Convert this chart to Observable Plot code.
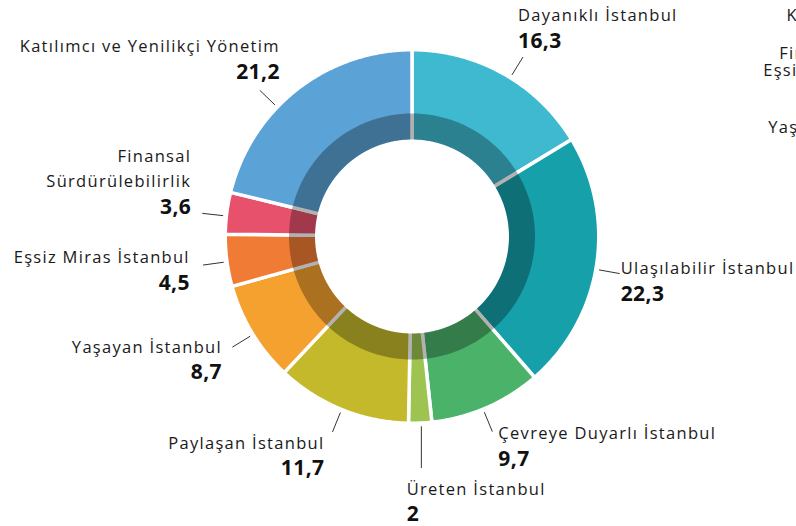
<!DOCTYPE html>
<html><head><meta charset="utf-8">
<script src="https://cdn.jsdelivr.net/npm/d3@7"></script>
<script src="https://cdn.jsdelivr.net/npm/@observablehq/plot@0.6"></script>
<style>
html,body{margin:0;padding:0;background:#fff;overflow:hidden;}
svg text{letter-spacing:1.3px;}
svg g[font-weight="700"] text, svg text[font-weight="700"]{letter-spacing:0.4px;}
</style></head><body><div id="chart"></div>
<script>
// ---- data ----
const categories = ["Dayanıklı İstanbul","Ulaşılabilir İstanbul","Çevreye Duyarlı İstanbul","Üreten İstanbul","Paylaşan İstanbul","Yaşayan İstanbul","Eşsiz Miras İstanbul","Finansal Sürdürülebilirlik","Katılımcı ve Yenilikçi Yönetim"];
const values = [16.3, 22.3, 9.7, 2, 11.7, 8.7, 4.5, 3.6, 21.2];
const valueLabels = ["16,3","22,3","9,7","2","11,7","8,7","4,5","3,6","21,2"];
const colors = ["#3fb9cf","#16a0aa","#4bb26a","#9dc451","#c4b92b","#f5a12f","#ef7b34","#e8516c","#5ba2d6"];
// labels of a neighbouring chart, cut off at the right edge
const neighbourLabels = ["Katılımcı ve Yenilikçi Yönetim","Finansal Sürdürülebilirlik","Eşsiz Miras İstanbul","Yaşayan İstanbul"];

// ---- layout (pixels) ----
const W = 796, H = 526, cx = 411.5, cy = 236, R = 185;
const rIn = 97 / R, rDark = 123 / R, gap = 3.5;
const c0 = 190 / R, c1 = 211 / R;
const labelLayout = [
  {shift: 2.4, dx: -5, dyName: -44, dyValue: -15.6, anchor: "start"},
  {shift: 1.3, dx: 1, dyName: -7.7, dyValue: 20.6, anchor: "start"},
  {shift: 1.2, dx: 6, dyName: 0, dyValue: 27.6, anchor: "start"},
  {shift: -0.3, vertical: 41.7, dx: -14.7, dyName: 19.3, dyValue: 46.3, anchor: "start"},
  {shift: 0, dx: -8, dyName: 9.4, dyValue: 36, anchor: "end"},
  {shift: -0.5, dx: -10.4, dyName: -2.4, dyValue: 25, anchor: "end"},
  {shift: -0.4, dx: -13.1, dyName: -10, dyValue: 18.3, anchor: "end"},
  {shift: -0.9, dx: -11.1, dyName: -46.5, dyValue: -6, anchor: "end", wrap: true},
  {shift: -8, dx: 20, dyName: -45.7, dyValue: -18, anchor: "end"}
];
const neighbourLayout = [[786, 15], [778.7, 53], [762.7, 70], [767.7, 127]];

const deg = Math.PI / 180;
const pt = (a, r) => [r * Math.sin(a), r * Math.cos(a)];
const arcs = d3.pie().sort(null).value(d => d)(values);

// slices
const sliceVerts = [];
arcs.forEach((p, i) => {
  const a0 = p.startAngle, a1 = p.endAngle;
  const n = Math.max(2, Math.ceil((a1 - a0) / (0.5 * deg)));
  const ro = 1 + gap / 2 / R, ri = rIn - gap / 2 / R;
  const pts = [];
  for (let k = 0; k <= n; k++) pts.push(pt(a0 + (a1 - a0) * k / n, ro));
  for (let k = n; k >= 0; k--) pts.push(pt(a0 + (a1 - a0) * k / n, ri));
  pts.push(pts[0]);
  pts.forEach(([x, y]) => sliceVerts.push({cat: categories[i], x, y}));
});

// dark inner band
const ringVerts = [];
for (let k = 0; k <= 720; k++) { const [x, y] = pt(k * 0.5 * deg, rDark); ringVerts.push({x, y}); }
for (let k = 720; k >= 0; k--) { const [x, y] = pt(k * 0.5 * deg, rIn); ringVerts.push({x, y}); }

// connectors and labels
const connectors = [], labels = [];
arcs.forEach((p, i) => {
  const L = labelLayout[i];
  const a = (p.startAngle + p.endAngle) / 2 + L.shift * deg;
  const [x1, y1] = pt(a, c0);
  let x2, y2;
  if (L.vertical) { x2 = x1; y2 = y1 - L.vertical / R; }
  else { [x2, y2] = pt(a, c1); }
  connectors.push({x1, y1, x2, y2});
  const name = L.wrap ? categories[i].replace(" ", "\n") : categories[i];
  labels.push({
    name, value: valueLabels[i], anchor: L.anchor,
    x: x2 + L.dx / R, yName: y2 - L.dyName / R, yValue: y2 - L.dyValue / R
  });
});
const neighbours = neighbourLabels.map((t, i) => ({t, x: (neighbourLayout[i][0] - cx) / R, y: (cy - neighbourLayout[i][1]) / R}));

const font = "'Open Sans', sans-serif";
const nameOpts = (anchor) => ({x: "x", y: "yName", text: "name", textAnchor: anchor, filter: d => d.anchor === anchor, fontSize: 16.5, lineHeight: 1.47, fill: "#1a1a1a"});
const valOpts = (anchor) => ({x: "x", y: "yValue", text: "value", textAnchor: anchor, filter: d => d.anchor === anchor, fontSize: 21, fontWeight: 700, fill: "#111"});

const chart = Plot.plot({
  width: W, height: H,
  marginTop: 0, marginRight: 0, marginBottom: 0, marginLeft: 0,
  x: {domain: [-cx / R, (W - cx) / R], range: [0, W], axis: null},
  y: {domain: [-(H - cy) / R, cy / R], range: [H, 0], axis: null},
  color: {domain: categories, range: colors},
  style: {fontFamily: font, background: "#fff"},
  marks: [
    Plot.line(sliceVerts, {x: "x", y: "y", z: "cat", fill: "cat", stroke: "white", strokeWidth: gap, curve: "linear"}),
    Plot.line(ringVerts, {x: "x", y: "y", fill: "black", fillOpacity: 0.3, stroke: "none", curve: "linear"}),
    Plot.link(connectors, {x1: "x1", y1: "y1", x2: "x2", y2: "y2", stroke: "#333", strokeWidth: 1}),
    Plot.text(labels, nameOpts("start")),
    Plot.text(labels, nameOpts("end")),
    Plot.text(labels, valOpts("start")),
    Plot.text(labels, valOpts("end")),
    Plot.text(neighbours, {x: "x", y: "y", text: "t", textAnchor: "start", fontSize: 16.5, fill: "#1a1a1a"})
  ]
});
document.getElementById("chart").appendChild(chart);
</script>
</body></html>
